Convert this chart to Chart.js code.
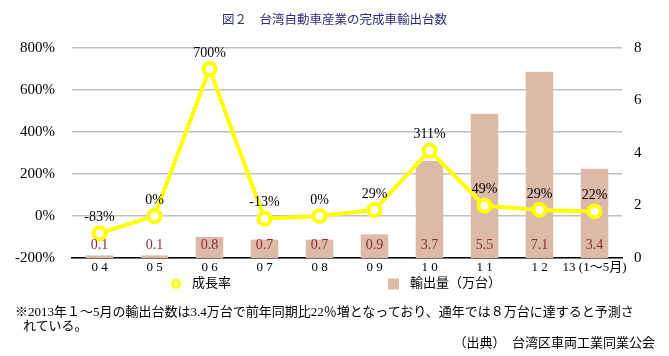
<!DOCTYPE html>
<html>
<head>
<meta charset="utf-8">
<script src="https://cdn.jsdelivr.net/npm/chart.js@4"></script>
<style>
  html, body { margin: 0; padding: 0; background: #ffffff; }
  #wrap { position: relative; width: 669px; height: 356px; overflow: hidden; }
  #c { position: absolute; left: 0; top: 0; }
  .txt { position: absolute; white-space: nowrap; font-family: 'Liberation Serif', 'Noto Sans CJK JP', serif; color: #000; }
  #title { left: 0; width: 669px; text-align: center; top: 12px; font-size: 12.5px; line-height: 16px; color: #2d2d7d; }
  #note { left: 15px; top: 305px; font-size: 13px; line-height: 14px; padding-left: 8px; text-indent: -8px; }
  #src { right: 14px; top: 335px; font-size: 13px; line-height: 16px; }
</style>
</head>
<body>
<div id="wrap">
  <canvas id="c" width="669" height="356"></canvas>
  <div id="title" class="txt">図２　台湾自動車産業の完成車輸出台数</div>
  <div id="note" class="txt">※2013年１～5月の輸出台数は3.4万台で前年同期比22％増となっており、通年では８万台に達すると予測さ<br>れている。</div>
  <div id="src" class="txt">（出典）　台湾区車両工業同業公会</div>
</div>
<script>
const categories = ['0 4', '0 5', '0 6', '0 7', '0 8', '0 9', '1 0', '1 1', '1 2', '13 (1～5月)'];
const growthRate = [-83, 0, 700, -13, 0, 29, 311, 49, 29, 22];
const exportVolume = [0.1, 0.1, 0.8, 0.7, 0.7, 0.9, 3.7, 5.5, 7.1, 3.4];
const leftTicks = { min: -200, max: 800, step: 200 };
const rightTicks = { min: 0, max: 8, step: 2 };
const seriesNames = ['成長率', '輸出量（万台）'];

const SERIF = "'Liberation Serif', 'Noto Sans CJK JP', serif";
const LINE_COLOR = '#ffff00';
const BAR_COLOR = '#dcbaa8';

const labelPlugin = {
  id: 'valueLabels',
  afterDatasetsDraw(chart) {
    const ctx = chart.ctx;
    const area = chart.chartArea;
    ctx.save();
    ctx.textAlign = 'center';
    ctx.textBaseline = 'middle';
    // bar labels
    const barMeta = chart.getDatasetMeta(1);
    ctx.font = '14px ' + SERIF;
    ctx.fillStyle = '#8b2c3b';
    barMeta.data.forEach((el, i) => {
      ctx.fillText(exportVolume[i].toFixed(1), el.x, area.bottom - 13);
    });
    // line labels
    const lineMeta = chart.getDatasetMeta(0);
    ctx.fillStyle = '#000000';
    lineMeta.data.forEach((el, i) => {
      ctx.fillText(growthRate[i] + '%', el.x, el.y - 16);
    });
    ctx.restore();
  },
  afterDraw(chart) {
    const ctx = chart.ctx;
    ctx.save();
    const y = 284;
    ctx.font = '13px ' + SERIF;
    ctx.fillStyle = '#000';
    ctx.textAlign = 'left';
    ctx.textBaseline = 'middle';
    // line legend
    ctx.beginPath();
    ctx.arc(176, y, 3.5, 0, Math.PI * 2);
    ctx.fillStyle = '#ffffff';
    ctx.fill();
    ctx.lineWidth = 3;
    ctx.strokeStyle = LINE_COLOR;
    ctx.stroke();
    ctx.fillStyle = '#000';
    ctx.fillText(seriesNames[0], 192, y);
    // bar legend
    ctx.fillStyle = BAR_COLOR;
    ctx.fillRect(388, y - 5.5, 11, 11);
    ctx.fillStyle = '#000';
    ctx.fillText(seriesNames[1], 410, y);
    ctx.restore();
  }
};

new Chart(document.getElementById('c'), {
  data: {
    labels: categories,
    datasets: [
      {
        type: 'line',
        label: seriesNames[0],
        data: growthRate,
        yAxisID: 'y',
        borderColor: LINE_COLOR,
        borderWidth: 4,
        tension: 0,
        pointRadius: 6,
        pointBorderWidth: 4,
        pointBackgroundColor: '#ffffff',
        pointBorderColor: LINE_COLOR,
        order: 0
      },
      {
        type: 'bar',
        label: seriesNames[1],
        data: exportVolume,
        yAxisID: 'y1',
        backgroundColor: BAR_COLOR,
        barPercentage: 0.5,
        categoryPercentage: 1,
        order: 1
      }
    ]
  },
  options: {
    responsive: false,
    animation: false,
    devicePixelRatio: 1,
    layout: { padding: { top: 48, bottom: 76, left: 0, right: 0 } },
    plugins: {
      legend: { display: false },
      title: { display: false },
      tooltip: { enabled: false }
    },
    scales: {
      x: {
        grid: { display: false, drawTicks: false },
        border: { display: true, color: '#000000', width: 1.5 },
        ticks: { color: '#000', font: { family: SERIF, size: 13 }, padding: 2, maxRotation: 0, autoSkip: false },
        afterFit(s) { s.height = 22; }
      },
      y: {
        position: 'left',
        min: leftTicks.min,
        max: leftTicks.max,
        grid: { color: '#c0c0c0', lineWidth: 1.5, drawTicks: false },
        border: { display: false },
        ticks: {
          stepSize: leftTicks.step,
          padding: 17,
          color: '#000',
          font: { family: SERIF, size: 15 },
          callback: v => v + '%'
        },
        afterFit(s) { s.width = 72; }
      },
      y1: {
        position: 'right',
        min: rightTicks.min,
        max: rightTicks.max,
        grid: { display: false, drawTicks: false },
        border: { display: false },
        ticks: {
          stepSize: rightTicks.step,
          padding: 12,
          color: '#000',
          font: { family: SERIF, size: 15 }
        },
        afterFit(s) { s.width = 47; }
      }
    }
  },
  plugins: [labelPlugin]
});
</script>
</body>
</html>
